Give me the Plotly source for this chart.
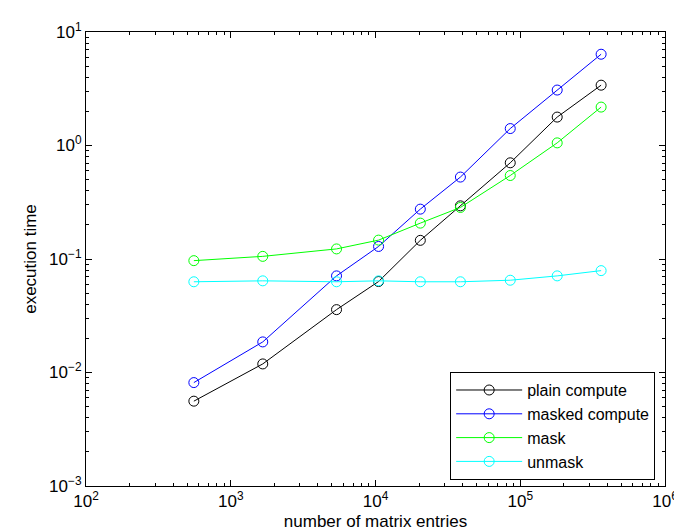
import plotly.graph_objects as go

# Data
matrix_entries = [556, 1664, 5380, 10500, 20400, 38600, 85300, 180000, 362000]
plain_compute = [0.00559, 0.0119, 0.0358, 0.0633, 0.146, 0.294, 0.704, 1.78, 3.40]
masked_compute = [0.00815, 0.0186, 0.071, 0.129, 0.275, 0.527, 1.41, 3.08, 6.37]
mask = [0.0967, 0.1055, 0.1227, 0.1467, 0.207, 0.2845, 0.544, 1.055, 2.18]
unmask = [0.063, 0.0642, 0.063, 0.0642, 0.063, 0.063, 0.065, 0.071, 0.079]

series_names = ["plain compute", "masked compute", "mask", "unmask"]
series_values = [plain_compute, masked_compute, mask, unmask]
series_colors = ["#000000", "#0000FF", "#00FF00", "#00FFFF"]

x_exponents = [2, 3, 4, 5, 6]
y_exponents = [-3, -2, -1, 0, 1]

FONT = "Liberation Sans, Arial, Helvetica, sans-serif"
FS = 17

fig = go.Figure()
for name, vals, col in zip(series_names, series_values, series_colors):
    fig.add_trace(go.Scatter(
        x=matrix_entries, y=vals, name=name, mode="lines+markers",
        line=dict(color=col, width=1),
        marker=dict(symbol="circle-open", size=10, color=col, line=dict(width=1, color=col)),
    ))

def minor_vals(exps):
    out = []
    for e in exps[:-1]:
        for m in range(2, 10):
            out.append(m * 10 ** e)
    return out

axis_common = dict(
    type="log", showgrid=False, zeroline=False,
    showline=True, linecolor="black", linewidth=1, mirror="ticks",
    ticks="inside", ticklen=6, tickwidth=1, tickcolor="black",
    tickfont=dict(family=FONT, size=FS, color="black"),
    title_font=dict(family=FONT, size=FS, color="black"),
)

fig.update_xaxes(
    **axis_common,
    range=[2, 6],
    tickmode="array",
    tickvals=[10 ** e for e in x_exponents],
    ticktext=[f"10<sup>{e}</sup>" for e in x_exponents],
    minor=dict(tickmode="array", tickvals=minor_vals(x_exponents), ticks="inside",
               ticklen=3, tickcolor="black", showgrid=False),
    title_text="number of matrix entries",
    title_standoff=4,
)
fig.update_yaxes(
    **axis_common,
    range=[-3, 1],
    tickmode="array",
    tickvals=[10.0 ** e for e in y_exponents],
    ticktext=[f"10<sup>{'−' if e < 0 else ''}{abs(e)}</sup>" for e in y_exponents],
    minor=dict(tickmode="array", tickvals=minor_vals(y_exponents), ticks="inside",
               ticklen=3, tickcolor="black", showgrid=False),
    title_text="execution time",
    title_standoff=8,
)

fig.update_layout(
    width=682, height=531,
    margin=dict(l=78, r=23, t=20, b=51),
    paper_bgcolor="white", plot_bgcolor="white",
    font=dict(family=FONT, size=FS, color="black"),
    showlegend=True,
    legend=dict(
        x=0.983, y=0.013, xanchor="right", yanchor="bottom",
        bgcolor="white", bordercolor="black", borderwidth=1,
        font=dict(family=FONT, size=16, color="black"),
        itemwidth=66, tracegroupgap=0,
    ),
)

fig.write_html("out.html")
